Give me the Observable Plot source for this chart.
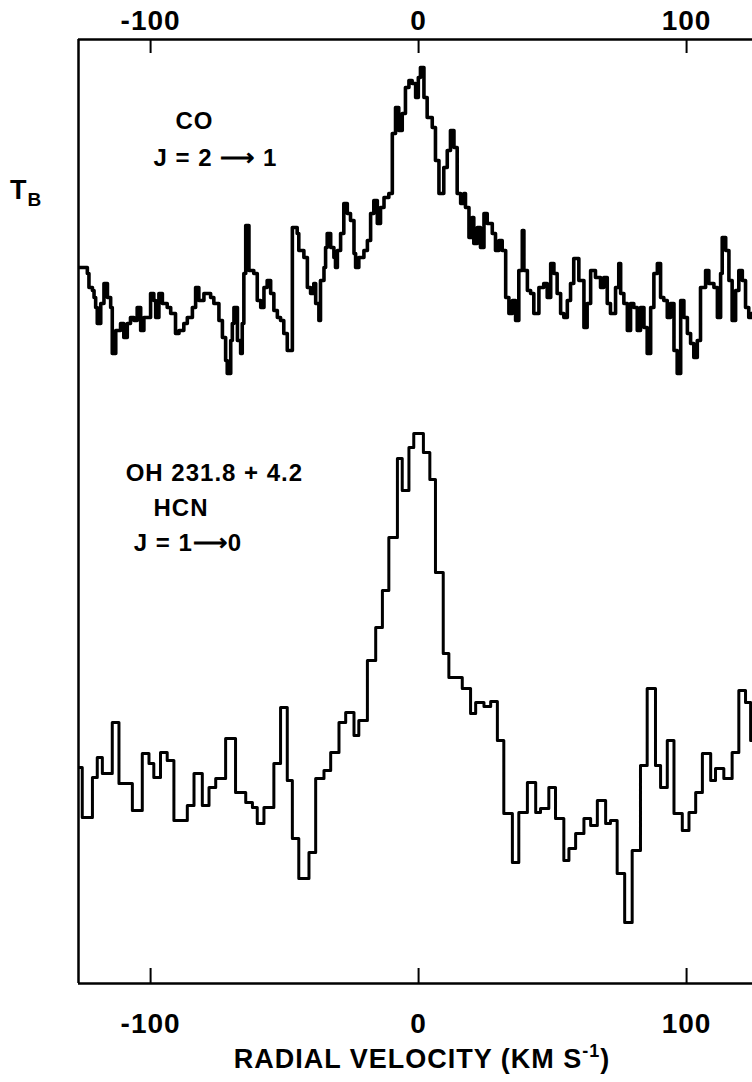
<!DOCTYPE html>
<html><head><meta charset="utf-8">
<script src="https://cdn.jsdelivr.net/npm/d3@7"></script>
<script src="https://cdn.jsdelivr.net/npm/@observablehq/plot@0.6"></script>
<style>
html,body{margin:0;padding:0;background:#fff;}
#chart{width:752px;height:1082px;overflow:hidden;}
</style></head><body><div id="chart"></div>
<script>
// CO J=2-1 spectrum (step breakpoints): radial velocity (km/s) and T_B (arbitrary units)
const coVelocity = [-126.9,-123.6,-123.0,-121.7,-121.1,-120.5,-119.9,-118.6,-117.4,-116.1,-114.9,-114.3,-113.0,-111.2,-110.0,-108.7,-107.5,-106.2,-105.0,-103.7,-102.5,-100.0,-98.8,-98.1,-96.9,-95.6,-93.8,-92.5,-90.7,-89.4,-87.6,-86.3,-84.4,-83.2,-82.0,-80.1,-77.6,-76.4,-74.5,-73.2,-72.0,-71.4,-70.1,-69.5,-68.9,-67.6,-66.4,-65.8,-65.2,-64.5,-63.3,-61.5,-60.2,-58.9,-57.7,-56.5,-55.2,-54.0,-52.7,-51.5,-50.3,-49.0,-47.1,-45.3,-44.7,-42.8,-41.5,-40.3,-39.1,-38.4,-37.2,-36.6,-35.3,-34.7,-34.1,-32.8,-31.6,-31.0,-30.3,-29.1,-27.9,-26.6,-25.4,-24.1,-23.5,-22.3,-20.4,-19.1,-17.9,-16.7,-15.4,-14.2,-12.9,-11.1,-9.8,-8.6,-7.4,-6.1,-4.9,-3.6,-2.4,-1.1,-0.1,0.7,2.0,3.2,5.1,6.3,7.6,9.4,10.7,11.9,13.2,14.4,15.7,16.9,17.5,18.8,20.0,20.6,21.9,23.1,24.4,25.6,27.5,28.7,30.0,31.2,32.5,33.7,35.0,36.2,37.4,38.7,39.3,40.6,41.8,43.0,44.9,46.7,48.0,49.3,50.5,51.7,53.0,54.2,55.5,56.7,57.9,59.8,61.7,62.9,64.2,66.0,67.9,69.1,70.4,71.6,73.5,74.7,75.4,76.6,77.9,79.1,80.3,81.6,82.8,84.1,85.3,86.6,87.8,89.1,90.3,91.5,92.8,94.0,95.3,96.5,97.8,99.0,100.3,101.5,102.7,104.0,105.2,107.1,108.3,110.2,111.5,112.7,113.3,114.6,115.8,117.0,118.3,119.5,120.8,122.0,123.2,124.1,124.6];
const coTB = [71.6,71.0,69.6,69.3,68.6,67.6,66.0,68.0,70.0,68.6,67.6,63.0,65.3,66.0,64.6,66.0,66.6,66.3,67.6,65.3,66.6,69.0,68.3,66.6,69.0,68.0,67.6,67.0,65.0,65.3,66.0,66.6,67.6,69.6,68.3,69.0,68.6,68.0,66.3,64.6,62.3,61.0,64.3,66.0,67.6,64.3,63.0,66.0,71.0,75.8,71.3,71.0,68.3,67.6,69.6,70.3,69.0,67.3,66.6,66.3,65.0,63.3,75.6,75.0,73.3,72.6,69.6,69.0,70.0,68.0,66.3,70.3,71.6,73.6,75.0,73.6,72.6,71.6,73.3,75.0,78.0,77.0,76.3,73.0,71.6,72.6,73.3,74.3,77.0,78.3,76.0,77.6,78.6,79.0,85.0,87.6,85.3,87.0,89.6,90.3,90.0,88.6,90.6,91.6,88.6,86.6,85.6,82.3,79.0,81.6,83.3,85.3,83.6,79.0,78.0,79.0,77.6,74.6,76.6,74.0,75.6,73.6,77.0,76.0,75.0,73.3,74.3,73.3,68.6,67.0,68.3,66.3,71.3,75.3,71.3,69.3,69.0,67.0,69.6,70.0,68.6,72.0,71.0,69.0,67.0,66.6,68.3,70.0,72.5,70.3,65.6,68.0,71.3,70.6,69.6,70.6,68.0,67.0,69.6,72.0,69.0,68.0,65.3,68.0,67.6,65.3,67.6,65.6,63.0,67.6,71.0,72.0,68.6,68.3,66.6,68.0,63.3,61.0,68.3,66.6,65.0,64.0,62.6,64.3,69.6,71.3,70.0,69.6,66.6,71.0,74.6,73.3,70.3,66.3,69.3,71.3,70.3,67.6,66.6,67.0,67.0];

// HCN J=1-0 spectrum (step breakpoints)
const hcnVelocity = [-126.9,-125.5,-121.7,-119.9,-118.0,-114.3,-111.8,-106.8,-103.1,-100.6,-98.8,-96.3,-93.8,-91.3,-86.3,-83.8,-80.7,-78.2,-75.7,-72.0,-68.3,-64.5,-62.0,-60.2,-57.7,-54.0,-51.5,-49.0,-47.1,-44.7,-40.9,-38.4,-35.3,-32.8,-29.7,-27.2,-24.1,-22.3,-19.1,-16.0,-13.5,-11.1,-7.9,-6.1,-3.6,-1.8,1.8,4.2,6.3,9.2,11.3,16.3,19.4,21.3,24.4,26.9,29.4,31.8,35.0,37.4,40.6,43.7,45.5,48.6,51.1,54.2,56.1,58.6,61.7,64.2,66.7,69.8,71.6,74.1,76.9,79.7,82.8,85.3,88.4,90.3,92.8,95.3,98.4,100.9,103.4,105.9,109.0,110.8,113.9,117.0,119.5,122.0,123.9,124.6];
const hcnTB = [21.6,16.6,20.6,22.6,21.0,26.1,20.0,17.3,23.0,22.0,20.6,23.1,22.3,16.3,17.8,21.0,17.8,19.6,20.5,24.5,19.1,18.1,17.6,16.0,17.6,22.0,27.6,20.3,14.5,10.5,13.1,20.5,21.3,23.1,26.1,27.1,24.8,26.3,32.3,35.6,39.3,44.6,52.5,49.3,53.6,55.0,53.1,50.4,41.1,33.0,30.6,29.5,27.0,28.1,27.7,28.2,24.3,17.0,12.1,17.1,20.1,17.1,17.5,19.6,16.5,12.3,13.5,15.0,16.5,15.8,18.3,16.0,16.3,11.0,6.1,13.3,21.8,29.5,21.8,19.6,24.3,17.0,15.3,17.1,19.1,23.0,20.3,21.5,20.5,23.1,29.3,28.1,24.3,24.3];

const xTicks = [-100, 0, 100];
const xDomain = [-126.9, 124.6];
const yDomain = [0, 94.4];

// in-plot annotations
const noteText = ["CO", "J = 2 \u27F6 1", "OH 231.8 + 4.2", "HCN", "J = 1\u27F60"];
const noteVelocity = [-90.7, -98.9, -109.3, -98.9, -106.3];
const noteTB = [86.2, 82.5, 51.0, 47.5, 44.0];

const co = coVelocity.map((v, i) => ({v, T: coTB[i]}));
const hcn = hcnVelocity.map((v, i) => ({v, T: hcnTB[i]}));
const notes = noteText.map((t, i) => ({t, v: noteVelocity[i], T: noteTB[i]}));

const FONT = "'Liberation Sans', Arial, Helvetica, sans-serif";

const plot = Plot.plot({
  width: 752,
  height: 1082,
  marginLeft: 78,
  marginRight: 0,
  marginTop: 39,
  marginBottom: 99,
  x: {domain: xDomain, axis: null},
  y: {domain: yDomain, axis: null},
  style: {fontFamily: FONT, background: "white", color: "black", letterSpacing: "1px"},
  marks: [
    Plot.ruleY(yDomain, {stroke: "black", strokeWidth: 2.5}),
    Plot.ruleX([xDomain[0]], {stroke: "black", strokeWidth: 2.5}),
    // inward tick marks
    Plot.axisX(xTicks, {anchor: "bottom", tickSize: 15, dy: -15, strokeWidth: 2, tickFormat: () => "", label: null}),
    Plot.axisX(xTicks, {anchor: "top", tickSize: 13, dy: 13, strokeWidth: 2, tickFormat: () => "", label: null}),
    // tick labels
    Plot.axisX(xTicks, {anchor: "bottom", tickSize: 0, tickPadding: 30, fontSize: 28, fontWeight: "bold", tickFormat: d => String(d), label: null}),
    Plot.axisX(xTicks, {anchor: "top", tickSize: 0, tickPadding: 10, fontSize: 28, fontWeight: "bold", tickFormat: d => String(d), label: null}),
    Plot.line(co, {x: "v", y: "T", curve: "step-after", stroke: "black", strokeWidth: 3.6, clip: true}),
    Plot.line(hcn, {x: "v", y: "T", curve: "step-after", stroke: "black", strokeWidth: 3, clip: true}),
    Plot.text(notes, {x: "v", y: "T", text: "t", textAnchor: "start", fontSize: 24, fontWeight: "bold", fill: "black"})
  ]
});

const svg = d3.select(plot);
// y-axis label T_B
const tb = svg.append("text").attr("x", 10).attr("y", 199).attr("text-anchor", "start")
  .attr("font-family", FONT).attr("font-weight", "bold").attr("font-size", 27).attr("fill", "black");
tb.append("tspan").text("T");
tb.append("tspan").attr("font-size", 19).attr("dy", 7).text("B");
// x-axis title with superscript
const xt = svg.append("text").attr("x", 422).attr("y", 1068).attr("text-anchor", "middle")
  .attr("font-family", FONT).attr("font-weight", "bold").attr("font-size", 27).attr("fill", "black");
xt.append("tspan").text("RADIAL VELOCITY (KM S");
xt.append("tspan").attr("font-size", 18).attr("dy", -11).text("-1");
xt.append("tspan").attr("dy", 11).text(")");

document.getElementById("chart").appendChild(plot);
</script>
</body></html>
